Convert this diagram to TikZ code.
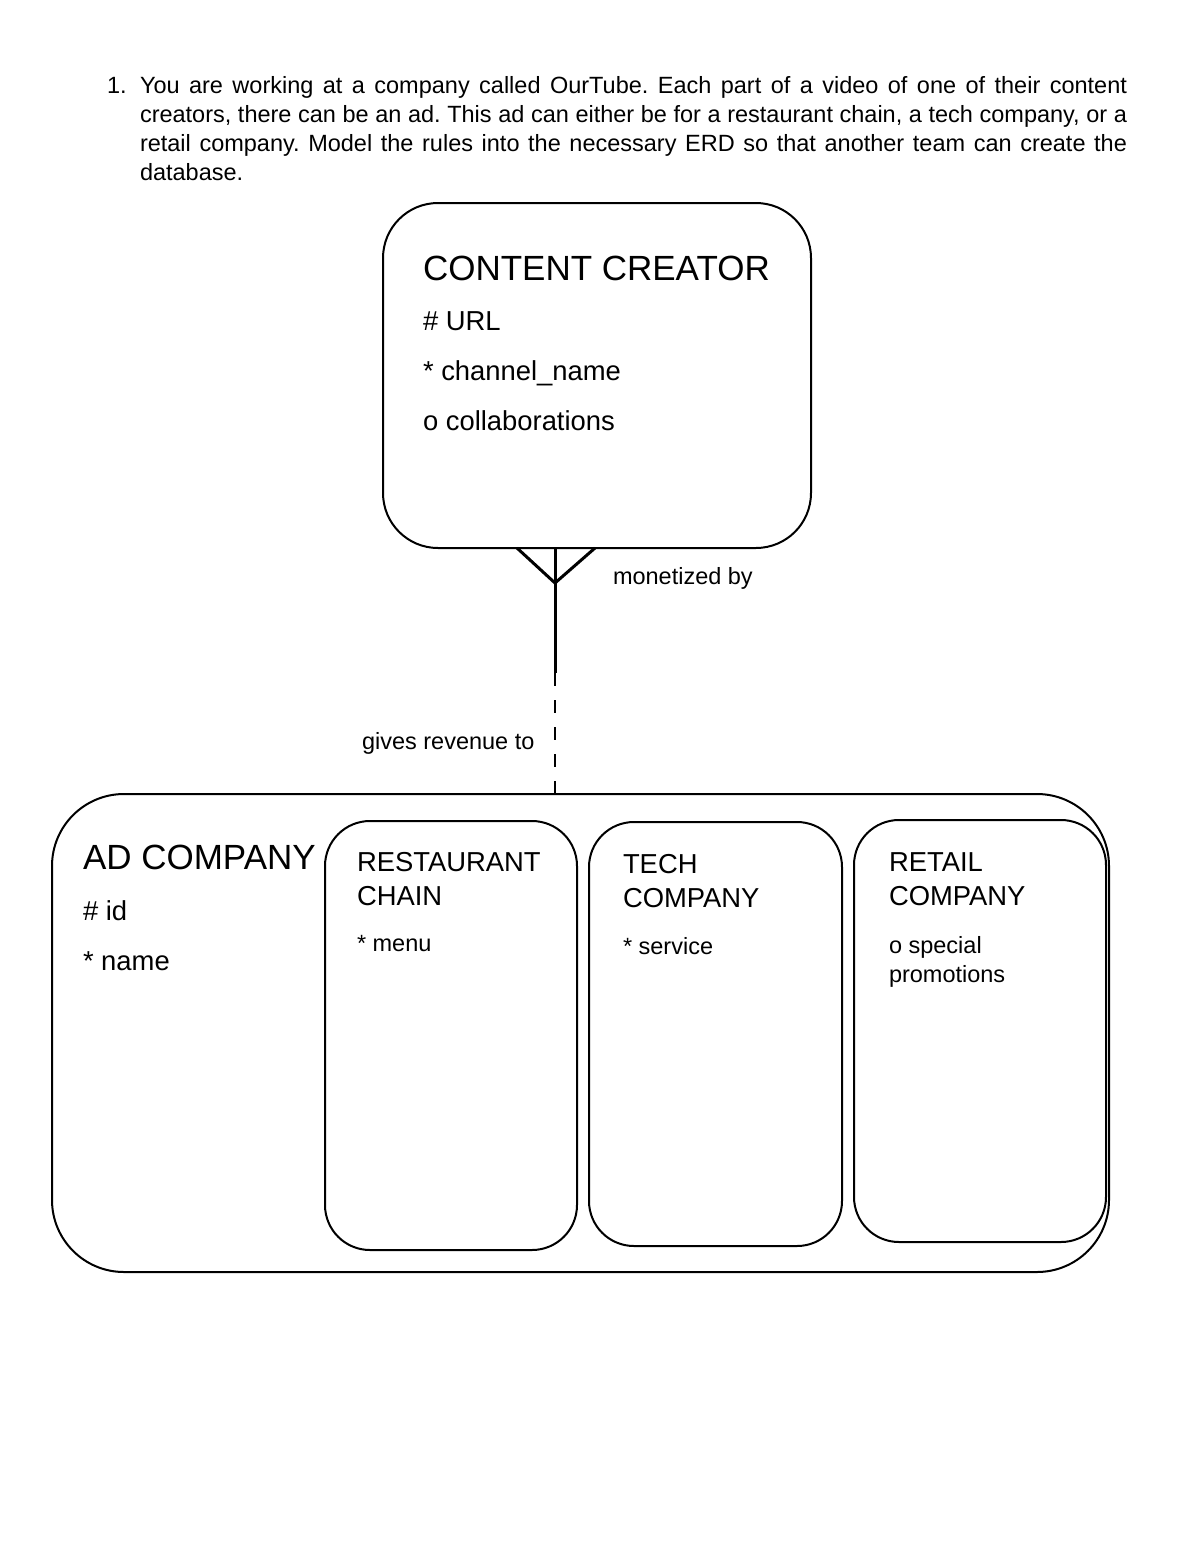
\documentclass[tikz,border=0pt]{standalone}
\usepackage{fontspec}
\setmainfont{Liberation Sans}
\usetikzlibrary{calc}
\newcommand{\fHead}{\fontsize{35}{42}\selectfont}
\newcommand{\fAttr}{\fontsize{27.4}{33}\selectfont}
\newcommand{\fBody}{\fontsize{23.5}{29}\selectfont}
\frenchspacing
\begin{document}
\begin{tikzpicture}[x=1pt,y=-1pt,
  box/.style={draw, line width=2pt, rounded corners=#1, inner sep=0pt, outer sep=0pt},
  txt/.style={anchor=base west, inner sep=0pt, outer sep=0pt},
  foot/.style={line width=3pt},
  dashline/.style={line width=1.8pt, dash pattern=on 13pt off 14pt}]
\useasboundingbox (0,0) rectangle (1200,1553);

% question text
\node[txt, font=\fBody] (qnum) at (107,93) {1.};
\node[txt, font=\fBody] (q1) at (140,93) {\makebox[987pt][s]{You are working at a company called OurTube. Each part of a video of one of their content}};
\node[txt, font=\fBody] (q2) at (140,122) {\makebox[987pt][s]{creators, there can be an ad. This ad can either be for a restaurant chain, a tech company, or a}};
\node[txt, font=\fBody] (q3) at (140,151) {\makebox[987pt][s]{retail company. Model the rules into the necessary ERD so that another team can create the}};
\node[txt, font=\fBody] (q4) at (140,180) {database.};

% content creator entity
\node[box=55pt, minimum width=428pt, minimum height=345pt] (cc) at (597,375.5) {};
\node[txt, font=\fHead] (ccname) at (423,280) {CONTENT CREATOR};
\node[txt, font=\fAttr] (cca1) at (423,330) {\# URL};
\node[txt, font=\fAttr] (cca2) at (423,380) {* channel\_name};
\node[txt, font=\fAttr] (cca3) at (423,430) {o collaborations};

% ad company supertype
\node[box=72pt, minimum width=1057pt, minimum height=478pt] (ad) at (580.5,1033) {};
\node[txt, font=\fHead] (adname) at (83,869) {AD COMPANY};
\node[txt, font=\fAttr] (ada1) at (83,920) {\# id};
\node[txt, font=\fAttr] (ada2) at (83,970) {* name};

% subtypes
\node[box=45pt, minimum width=252pt, minimum height=429pt] (rest) at (451,1035.5) {};
\node[txt, font=\fAttr] (restn1) at (357,871) {RESTAURANT};
\node[txt, font=\fAttr] (restn2) at (357,905) {CHAIN};
\node[txt, font=\fBody] (resta1) at (357,951) {* menu};

\node[box=45pt, minimum width=253pt, minimum height=424pt] (tech) at (715.5,1034) {};
\node[txt, font=\fAttr] (techn1) at (623,873) {TECH};
\node[txt, font=\fAttr] (techn2) at (623,907) {COMPANY};
\node[txt, font=\fBody] (techa1) at (623,954) {* service};

\node[box=45pt, minimum width=252pt, minimum height=422pt] (ret) at (980,1031) {};
\node[txt, font=\fAttr] (retn1) at (889,871) {RETAIL};
\node[txt, font=\fAttr] (retn2) at (889,905) {COMPANY};
\node[txt, font=\fBody] (reta1) at (889,953) {o special};
\node[txt, font=\fBody] (reta2) at (889,982) {promotions};

% relationship
\coordinate (xline) at (555,0);
\coordinate (mid) at (555,673);
\coordinate (cft) at (cc.south -| xline);
\draw[foot] (cft) -- (mid);
\draw[foot] ($(cft)+(-38,0)$) -- ($(cft)+(0,35)$) -- ($(cft)+(40,0)$);
\draw[dashline] (mid) -- (ad.north -| xline);

\node[txt, font=\fBody] (lbl1) at (613,584) {monetized by};
\node[txt, font=\fBody] (lbl2) at (362,749) {gives revenue to};
\end{tikzpicture}
\end{document}
